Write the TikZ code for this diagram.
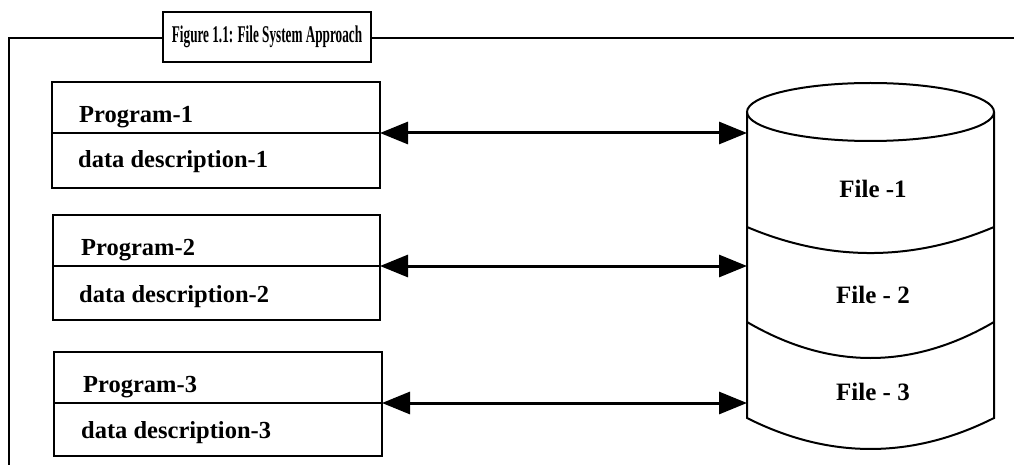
\documentclass[tikz,border=0pt]{standalone}
\usepackage{graphicx}
\usepackage{fontspec}
\setmainfont{Liberation Serif}
\usetikzlibrary{arrows.meta}
\begin{document}
\begin{tikzpicture}[x=1pt,y=-1pt,
  frameline/.style={line width=2pt},
  half/.style={draw,line width=2pt,rectangle,outer sep=0pt,inner sep=0pt},
  lbl/.style={anchor=base west,inner sep=0pt,font=\fontsize{24.5}{28}\selectfont\bfseries},
  flbl/.style={anchor=base,inner sep=0pt,font=\fontsize{25}{28}\selectfont\bfseries},
  arr/.style={line width=3pt,{Triangle[length=28pt,width=22pt]}-{Triangle[length=28pt,width=22pt]}}]
\useasboundingbox (0,0) rectangle (1014,465);
% outer frame
\draw[frameline] (9,470) -- (9,38) -- (1020,38);
\node[draw,line width=2pt,fill=white,minimum width=208pt,minimum height=50pt,inner sep=0pt,outer sep=0pt,
  font=\fontsize{24}{26}\selectfont\bfseries] (title) at (267,37)
  {\scalebox{0.55}[1]{Figure 1.1: File System Approach}};
% program boxes
\node[half,minimum width=328pt,minimum height=51pt] (p1) at (216,107.5) {};
\node[half,minimum width=328pt,minimum height=55pt] (d1) at (216,160.5) {};
\node[half,minimum width=327pt,minimum height=51pt] (p2) at (216.5,240.5) {};
\node[half,minimum width=327pt,minimum height=54pt] (d2) at (216.5,293) {};
\node[half,minimum width=328pt,minimum height=51pt] (p3) at (218,377.5) {};
\node[half,minimum width=328pt,minimum height=53pt] (d3) at (218,429.5) {};
\node[lbl] (tp1) at (79,123) {Program-1};
\node[lbl] (td1) at (78,168) {data description-1};
\node[lbl] (tp2) at (81,255) {Program-2};
\node[lbl] (td2) at (79,302) {data description-2};
\node[lbl] (tp3) at (83,392) {Program-3};
\node[lbl] (td3) at (81,438) {data description-3};
% cylinder
\draw[frameline] (747,112) -- (747,418) .. controls (829,459.3) and (912,459.3) .. (994,418) -- (994,112);
\draw[frameline] (870.5,112) ellipse [x radius=123.5, y radius=29];
\draw[frameline] (747,227) .. controls (829,261.7) and (912,261.7) .. (994,227);
\draw[frameline] (747,322) .. controls (829,370) and (912,370) .. (994,322);
\node[flbl] (file1) at (873,197) {File -1};
\node[flbl] (file2) at (873,303) {File - 2};
\node[flbl] (file3) at (873,400) {File - 3};
\coordinate (f1) at (747,133);
\coordinate (f2) at (747,266);
\coordinate (f3) at (747,403);
% connectors
\draw[arr] (p1.south east) -- (f1);
\draw[arr] (p2.south east) -- (f2);
\draw[arr] (p3.south east) -- (f3);
\end{tikzpicture}
\end{document}
